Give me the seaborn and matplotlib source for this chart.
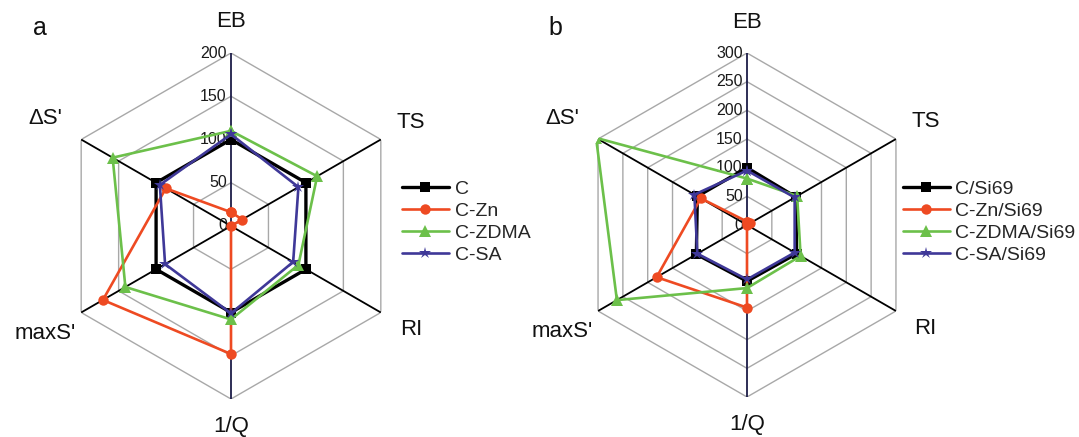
import numpy as np
import pandas as pd
import matplotlib
matplotlib.use("Agg")
import matplotlib.pyplot as plt
import seaborn as sns

sns.set_theme(style="white")
plt.rcParams['font.family'] = ['Liberation Sans', 'DejaVu Sans']

categories = ["EB", "TS", "RI", "1/Q", "maxS'", "\u0394S'"]

# panel a
series_a = ["C", "C-Zn", "C-ZDMA", "C-SA"]
vals_C = [100, 100, 100, 100, 100, 100]
vals_CZn = [16, 15, 0, 148, 171, 87]
vals_CZDMA = [110, 115, 90, 108, 141, 158]
vals_CSA = [106, 90, 83, 101, 88, 95]
ticks_a = [0, 50, 100, 150, 200]

# panel b
series_b = ["C/Si69", "C-Zn/Si69", "C-ZDMA/Si69", "C-SA/Si69"]
vals_CS = [100, 98, 100, 98, 102, 100]
vals_CZnS = [6, 6, 0, 144, 182, 93]
vals_CZDMAS = [81, 101, 108, 110, 262, 304]
vals_CSAS = [95, 96, 96, 95, 100, 106]
ticks_b = [0, 50, 100, 150, 200, 250, 300]

colors = ["#000000", "#EE4A22", "#6CC04A", "#3F3898"]
markers = ["s", "o", "^", "*"]
msizes = [6.5, 7.5, 8, 9]
lws = [2.4, 1.9, 1.9, 1.9]

W, H = 1079, 437
fig = plt.figure(figsize=(W / 100, H / 100), dpi=100)

n = len(categories)
angles = np.arange(n) * 2 * np.pi / n


def make_panel(rect, data, names, ticks, letter, letter_xy, legend_xy):
    ax = fig.add_axes(rect, projection="polar")
    ax.set_theta_offset(np.pi / 2)
    ax.set_theta_direction(-1)
    rmax = ticks[-1]
    ax.set_ylim(0, rmax)
    ax.grid(False)
    ax.set_xticks([])
    ax.set_yticks([])
    ax.spines["polar"].set_visible(False)
    ax.set_facecolor("none")
    closed = np.append(angles, angles[0])
    # hexagonal grid rings
    for t in ticks[1:]:
        ax.plot(closed, [t] * (n + 1), color="#a8a8a8", lw=1.0, zorder=1)
    # spokes
    for i, a in enumerate(angles):
        col = "#1c1c48" if i in (0, 3) else "#000000"
        ax.plot([a, a], [0, rmax], color=col, lw=1.3, zorder=2)
    handles = []
    for k, (name, vals) in enumerate(zip(names, data)):
        df = pd.DataFrame({"theta": np.append(angles, 2 * np.pi),
                           "r": vals + [vals[0]]})
        sns.lineplot(data=df, x="theta", y="r", ax=ax, sort=False,
                     color=colors[k], lw=lws[k], marker=markers[k],
                     markersize=msizes[k], markeredgewidth=0,
                     zorder=5 + k, label=name, legend=False)
        handles.append(ax.lines[-1])
    ax.set_xlabel("")
    ax.set_ylabel("")
    ax.set_ylim(0, rmax)
    # radial tick labels
    for t in ticks:
        ax.annotate(str(t), xy=(0, t), xytext=(-3, 0), textcoords="offset points",
                    ha="right", va="center", fontsize=11.5, color="#1a1a1a",
                    zorder=3)
    # category labels
    facs = [1.18, 1.2, 1.2, 1.16, 1.24, 1.24]
    for a, lab, f in zip(angles, categories, facs):
        ax.text(a, rmax * f, lab, ha="center", va="center", fontsize=16,
                color="#111111", clip_on=False)
    fig.text(letter_xy[0] / W, 1 - letter_xy[1] / H, letter, fontsize=18,
             ha="center", va="center", color="#111111")
    fig.legend(handles=handles, labels=names, loc="center left",
               bbox_to_anchor=(legend_xy[0] / W, 1 - legend_xy[1] / H),
               frameon=False, fontsize=14, handlelength=2.4,
               handletextpad=0.3, labelspacing=0.22, borderpad=0,
               borderaxespad=0)
    return ax


make_panel([58 / W, 38 / H, 346 / W, 346 / H],
           [vals_C, vals_CZn, vals_CZDMA, vals_CSA], series_a, ticks_a,
           "a", (40, 28), (402, 222))
make_panel([575 / W, 40 / H, 344 / W, 344 / H],
           [vals_CS, vals_CZnS, vals_CZDMAS, vals_CSAS], series_b, ticks_b,
           "b", (555, 28), (903, 222))

fig.savefig("out.png", dpi=100)
